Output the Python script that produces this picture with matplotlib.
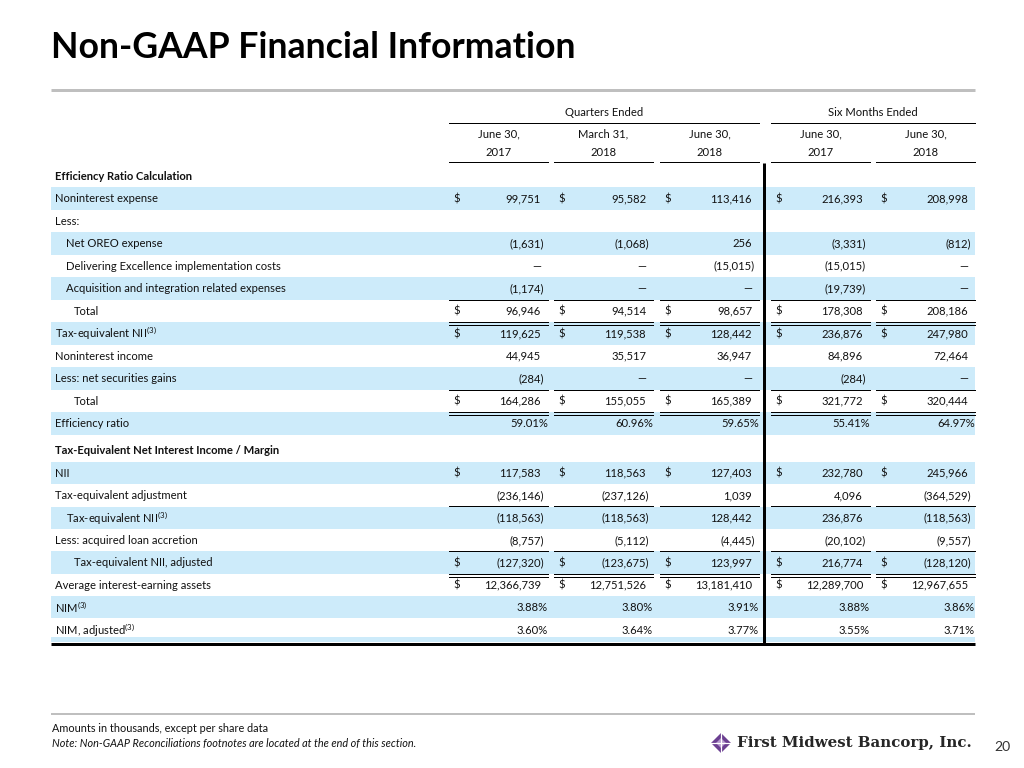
import matplotlib
matplotlib.use('Agg')
import matplotlib.pyplot as plt
from matplotlib.patches import Rectangle, Polygon

plt.rcParams['font.family'] = ['Lato', 'DejaVu Sans']
plt.rcParams['mathtext.fontset'] = 'custom'
plt.rcParams['mathtext.rm'] = 'Lato'
plt.rcParams['mathtext.it'] = 'Lato:italic'
plt.rcParams['mathtext.bf'] = 'Lato:bold'

# ---------------- data ----------------
title = "Non-GAAP Financial Information"
group_headers = ["Quarters Ended", "Six Months Ended"]
col_month = ["June 30,", "March 31,", "June 30,", "June 30,", "June 30,"]
col_year = ["2017", "2018", "2018", "2017", "2018"]

section1_title = "Efficiency Ratio Calculation"
noninterest_expense = [99751, 95582, 113416, 216393, 208998]
net_oreo_expense = [-1631, -1068, 256, -3331, -812]
delivering_excellence = [0, 0, -15015, -15015, 0]
acquisition_expenses = [-1174, 0, 0, -19739, 0]
total_expense = [96946, 94514, 98657, 178308, 208186]
tax_equiv_nii = [119625, 119538, 128442, 236876, 247980]
noninterest_income = [44945, 35517, 36947, 84896, 72464]
net_securities_gains = [-284, 0, 0, -284, 0]
total_revenue = [164286, 155055, 165389, 321772, 320444]
efficiency_ratio = [59.01, 60.96, 59.65, 55.41, 64.97]

section2_title = "Tax-Equivalent Net Interest Income / Margin"
nii = [117583, 118563, 127403, 232780, 245966]
tax_equiv_adjustment = [-236146, -237126, 1039, 4096, -364529]
tax_equiv_nii_2 = [-118563, -118563, 128442, 236876, -118563]
acquired_loan_accretion = [-8757, -5112, -4445, -20102, -9557]
tax_equiv_nii_adjusted = [-127320, -123675, 123997, 216774, -128120]
avg_earning_assets = [12366739, 12751526, 13181410, 12289700, 12967655]
nim = [3.88, 3.80, 3.91, 3.88, 3.86]
nim_adjusted = [3.60, 3.64, 3.77, 3.55, 3.71]

footer_1 = "Amounts in thousands, except per share data"
footer_2 = "Note: Non-GAAP Reconciliations footnotes are located at the end of this section."
company = "First Midwest Bancorp, Inc."
page_no = "20"

# (label, values, kind, dollar, indent, blue, line_below)
section1_rows = [
    ("Noninterest expense", noninterest_expense, 'num', True, 0, True, None),
    ("Less:", None, None, False, 0, False, None),
    ("Net OREO expense", net_oreo_expense, 'num', False, 1, True, None),
    ("Delivering Excellence implementation costs", delivering_excellence, 'num', False, 1, False, None),
    ("Acquisition and integration related expenses", acquisition_expenses, 'num', False, 1, True, 'single'),
    ("Total", total_expense, 'num', True, 2, False, 'double'),
    ("Tax-equivalent NII$^{(3)}$", tax_equiv_nii, 'num', True, 0, True, None),
    ("Noninterest income", noninterest_income, 'num', False, 0, False, None),
    ("Less: net securities gains", net_securities_gains, 'num', False, 0, True, 'single'),
    ("Total", total_revenue, 'num', True, 2, False, 'double'),
    ("Efficiency ratio", efficiency_ratio, 'pct', False, 0, True, None),
]
section2_rows = [
    ("NII", nii, 'num', True, 0, True, None),
    ("Tax-equivalent adjustment", tax_equiv_adjustment, 'num', False, 0, False, 'single'),
    ("Tax-equivalent NII$^{(3)}$", tax_equiv_nii_2, 'num', False, 1, True, None),
    ("Less: acquired loan accretion", acquired_loan_accretion, 'num', False, 0, False, 'single'),
    ("Tax-equivalent NII, adjusted", tax_equiv_nii_adjusted, 'num', True, 2, True, 'double'),
    ("Average interest-earning assets", avg_earning_assets, 'num', True, 0, False, None),
    ("NIM$^{(3)}$", nim, 'pct', False, 0, True, None),
    ("NIM, adjusted$^{(3)}$", nim_adjusted, 'pct', False, 0, False, None),
]

# ---------------- layout ----------------
W, H = 1024, 768
fig = plt.figure(figsize=(10.24, 7.68), dpi=100)
ax = fig.add_axes([0, 0, 1, 1])
ax.set_xlim(0, W)
ax.set_ylim(H, 0)
ax.axis('off')
renderer = fig.canvas.get_renderer()
PT = 0.72  # points per pixel

TXT = '#111111'
BLUE = '#CDEBFA'
GRAY = '#BFBFBF'


def width_of(s, size, **kw):
    t = ax.text(0, 0, s, fontsize=size, **kw)
    w = t.get_window_extent(renderer).width
    t.remove()
    return w


def fit(s, target, **kw):
    return 10 * target / width_of(s, 10, **kw)


BODY = fit("Noninterest expense", 103)
TITLE = fit(title, 525, fontweight='bold')

# table geometry
LEFT, RIGHT = 51, 975
col_x0 = [449, 554, 660, 771, 876]
col_x1 = [548, 653, 759, 870, 975]
indent_x = [55, 66, 74]
VLINE_X = 764

# title and rule
ax.text(51, 47, title, fontsize=TITLE, fontweight='bold', color='black', va='center', ha='left')
ax.plot([LEFT, RIGHT], [90, 90], color=GRAY, lw=3 * PT, solid_capstyle='butt')

# column headers
ax.text((col_x0[0] + col_x1[2]) / 2, 112.5, group_headers[0], fontsize=BODY, color=TXT, ha='center', va='center')
ax.text((col_x0[3] + col_x1[4]) / 2, 112.5, group_headers[1], fontsize=BODY, color=TXT, ha='center', va='center')
ax.plot([col_x0[0], col_x1[2]], [123, 123], color='black', lw=1 * PT)
ax.plot([col_x0[3], col_x1[4]], [123, 123], color='black', lw=1 * PT)
for i in range(5):
    cx = (col_x0[i] + col_x1[i]) / 2
    ax.text(cx, 133.5, col_month[i], fontsize=BODY, color=TXT, ha='center', va='center')
    ax.text(cx, 152.5, col_year[i], fontsize=BODY, color=TXT, ha='center', va='center')
    ax.plot([col_x0[i], col_x1[i]], [162, 162], color='black', lw=1 * PT)

pw = width_of(")", BODY)


def fmt_num(v):
    if v == 0:
        return "\u2014", False
    s = f"{abs(v):,}"
    if v < 0:
        return f"({s})", True
    return s, False


def draw_row(top, h, row):
    label, vals, kind, dollar, ind, blue, below = row
    if blue:
        ax.add_patch(Rectangle((LEFT, top), RIGHT - LEFT, h, facecolor=BLUE, edgecolor='none', zorder=0))
    yc = top + h / 2 + 0.5
    ax.text(indent_x[ind], yc, label, fontsize=BODY, color=TXT, ha='left', va='center')
    if vals is not None:
        for i, v in enumerate(vals):
            x1 = col_x1[i]
            if kind == 'pct':
                ax.text(x1, yc, f"{v:.2f}%", fontsize=BODY, color=TXT, ha='right', va='center')
            else:
                s, neg = fmt_num(v)
                xr = x1 - 4 if neg else x1 - 4 - pw
                ax.text(xr, yc, s, fontsize=BODY, color=TXT, ha='right', va='center')
            if dollar:
                ax.text(col_x0[i] + 4, yc, "$", fontsize=BODY, color=TXT, ha='left', va='center')
    yb = top + h
    for i in range(5):
        if below == 'single':
            ax.plot([col_x0[i], col_x1[i]], [yb, yb], color='black', lw=1 * PT, zorder=3)
        elif below == 'double':
            ax.plot([col_x0[i], col_x1[i]], [yb, yb], color='black', lw=1 * PT, zorder=3)
            ax.plot([col_x0[i], col_x1[i]], [yb + 3, yb + 3], color='black', lw=1 * PT, zorder=3)


# section 1
ax.text(indent_x[0], 177, section1_title, fontsize=BODY, fontweight='bold', color=TXT, ha='left', va='center')
for k, row in enumerate(section1_rows):
    draw_row(187 + 22.5 * k, 22.5, row)

# section 2
ax.text(indent_x[0], 450, section2_title, fontsize=BODY, fontweight='bold', color=TXT, ha='left', va='center')
for j, row in enumerate(section2_rows):
    draw_row(461.7 + 22.4 * j, 22.4, row)

# bottom sliver and thick rule
ax.add_patch(Rectangle((LEFT, 637), RIGHT - LEFT, 5, facecolor=BLUE, edgecolor='none', zorder=0))
ax.plot([LEFT, RIGHT], [643.8, 643.8], color='black', lw=3 * PT, solid_capstyle='butt', zorder=4)
ax.plot([VLINE_X, VLINE_X], [163, 645], color='black', lw=3 * PT, solid_capstyle='butt', zorder=4)

# footer
ax.plot([LEFT, RIGHT], [714, 714], color=GRAY, lw=2 * PT, solid_capstyle='butt')
FOOT = fit(footer_1, 215)
ax.text(52, 729, footer_1, fontsize=FOOT, color=TXT, ha='left', va='center')
ax.text(52, 744, footer_2, fontsize=FOOT, fontstyle='italic', color=TXT, ha='left', va='center')

# logo
cx, cy = 721, 743
ax.add_patch(Polygon([[cx - 10, cy], [cx, cy - 10], [cx + 10, cy], [cx, cy + 10]], closed=True,
                     facecolor='#6B3F91', edgecolor='none', zorder=5))
ax.add_patch(Polygon([[cx - 5, cy], [cx, cy - 5], [cx + 5, cy], [cx, cy + 5]], closed=True,
                     facecolor='#B79BCF', edgecolor='none', zorder=6))
ax.plot([cx - 10, cx + 10], [cy, cy], color='white', lw=1.2 * PT, zorder=7)
ax.plot([cx, cx], [cy - 10, cy + 10], color='white', lw=1.2 * PT, zorder=7)
LOGO = fit(company, 236, family='DejaVu Serif', fontweight='bold')
ax.text(737, 743, company, fontsize=LOGO, family='DejaVu Serif', fontweight='bold', color='#262626',
        ha='left', va='center')
ax.text(1002, 747, page_no, fontsize=BODY * 1.25, color='#333333', ha='center', va='center')

fig.savefig('out.png', dpi=100)
